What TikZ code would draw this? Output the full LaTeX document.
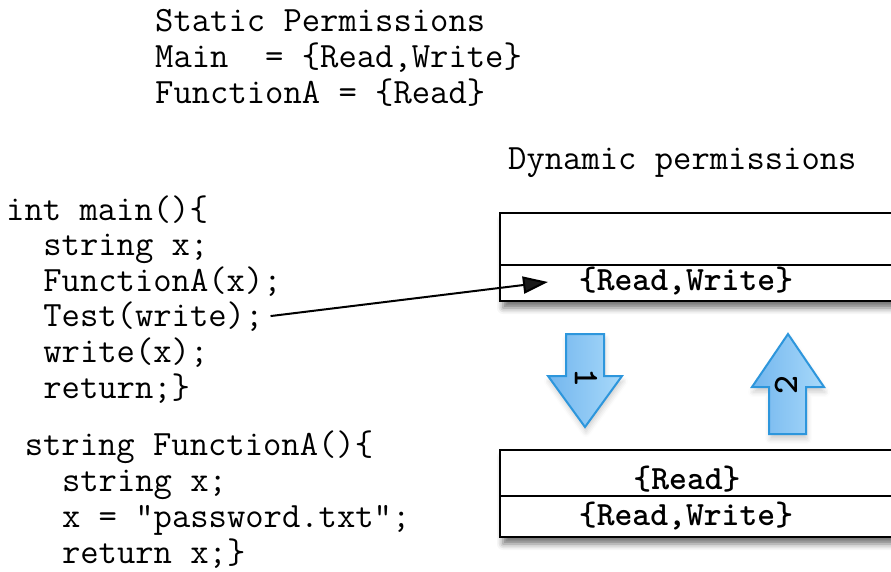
\documentclass[tikz,border=0pt]{standalone}
\usepackage{fontspec}
\setmonofont{Latin Modern Mono}
\newfontfamily\permfont{lmmonolt10-bold}[Extension=.otf]
\usetikzlibrary{arrows.meta,shadows.blur,positioning}

\definecolor{stepline}{RGB}{45,150,220}
\definecolor{stepdark}{RGB}{115,182,238}
\definecolor{steplight}{RGB}{168,217,250}

\tikzset{
  code/.style={anchor=base west, inner sep=0pt,
    font=\ttfamily\fontsize{35.6}{36}\selectfont},
  perm/.style={anchor=base, inner sep=0pt,
    font=\permfont\fontsize{34}{36}\selectfont},
  permbox/.style={draw, line width=2pt, fill=white,
    blur shadow={shadow xshift=3pt, shadow yshift=-7pt,
      shadow blur radius=6pt, shadow opacity=55}},
  stepshape/.style={draw=stepline, line width=2pt, line join=miter,
    left color=stepdark, right color=steplight,
    blur shadow={shadow xshift=1pt, shadow yshift=-5pt,
      shadow blur radius=5pt, shadow opacity=20}},
  steplabel/.style={inner sep=0pt,
    font=\permfont\fontsize{36}{36}\selectfont},
}

\begin{document}
\begin{tikzpicture}[x=1pt,y=-1pt]
  \useasboundingbox (0,0) rectangle (891,572);

  % static permissions
  \node[code] (static-title) at (155,32) {Static Permissions};
  \node[code] (static-main) at (155,68) {Main\ \ = \{Read,Write\}};
  \node[code] (static-funca) at (155,104) {FunctionA = \{Read\}};

  % source code
  \foreach \ind/\txt [count=\i] in {0/int main()\{, 2/string x;,
      2/FunctionA(x);, 2/Test(write);, 2/write(x);, 2/return;\}}
    \node[code] (main-\i) at ({6+\ind*18.6},{220+(\i-1)*35.6}) {\txt};
  \foreach \ind/\txt [count=\i] in {1/string FunctionA()\{, 3/string x;,
      3/x = "password.txt";, 3/return x;\}}
    \node[code] (funca-\i) at ({6+\ind*18.6},{455+(\i-1)*36}) {\txt};

  % dynamic permission stack
  \node[code] (dyn-title) at (508,170) {Dynamic permissions};

  \draw[permbox] (500,213) rectangle (912,301);
  \draw[line width=1.5pt] (500,265) -- (912,265);
  \node[perm] (dyn-top) at (686,290) {\{Read,Write\}};

  \draw[permbox] (500,450) rectangle (912,537);
  \draw[line width=1.5pt] (500,496) -- (912,496);
  \node[perm] (dyn-funca) at (687,489) {\{Read\}};
  \node[perm] (dyn-main) at (686,525) {\{Read,Write\}};

  % push / pop arrows
  \draw[stepshape] (566,334) -- (604,334) -- (604,376) -- (622,376)
    -- (585,427) -- (548,376) -- (566,376) -- cycle;
  \node[steplabel, rotate=-90] (push) at (586,378) {1};
  \draw[stepshape] (769,434) -- (806,434) -- (806,387) -- (824,387)
    -- (788,334) -- (752,387) -- (769,387) -- cycle;
  \node[steplabel, rotate=90] (pop) at (786,385) {2};

  \coordinate (hit) at (548,282);
  \draw[line width=2pt, -{Triangle[length=25pt,width=17pt]},
    shorten <=7pt] (main-4.east) -- (hit);
\end{tikzpicture}
\end{document}
